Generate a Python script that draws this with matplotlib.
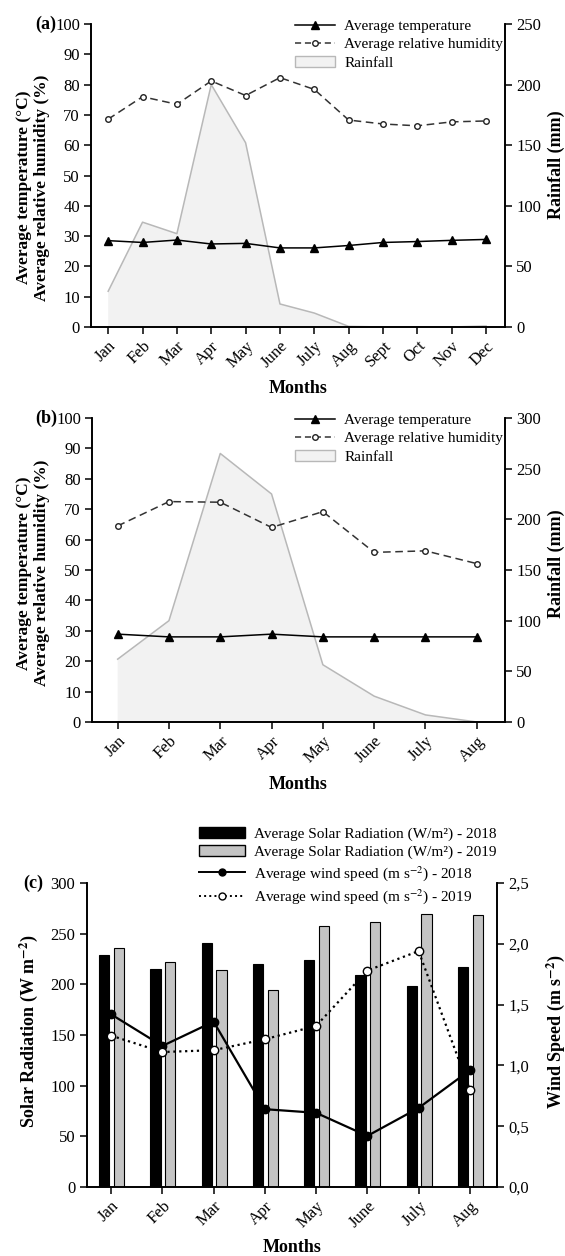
import matplotlib
matplotlib.use("Agg")
import matplotlib.pyplot as plt
from matplotlib.patches import Patch
from matplotlib.lines import Line2D
import numpy as np

plt.rcParams['font.family'] = ['Liberation Serif', 'DejaVu Serif']
plt.rcParams['mathtext.fontset'] = 'stix'

# ---------------- data ----------------
months_a = ["Jan", "Feb", "Mar", "Apr", "May", "June", "July", "Aug", "Sept", "Oct", "Nov", "Dec"]
temp_a = [28.5, 27.9, 28.7, 27.4, 27.6, 26.1, 26.1, 26.9, 27.9, 28.2, 28.6, 28.9]
hum_a = [68.6, 76.0, 73.5, 81.2, 76.4, 82.3, 78.4, 68.3, 67.0, 66.4, 67.7, 68.0]
rain_a = [29.5, 86.5, 77.0, 200.0, 152.0, 19.0, 11.5, 0.5, 0.0, 0.0, 0.0, 0.8]

months_b = ["Jan", "Feb", "Mar", "Apr", "May", "June", "July", "Aug"]
temp_b = [28.9, 28.0, 28.0, 28.9, 28.0, 28.0, 28.0, 28.0]
hum_b = [64.5, 72.5, 72.3, 64.0, 69.2, 55.8, 56.3, 52.1]
rain_b = [62.0, 100.0, 265.0, 225.0, 56.5, 25.5, 7.0, 0.0]

months_c = ["Jan", "Feb", "Mar", "Apr", "May", "June", "July", "Aug"]
solar_2018 = [228.5, 215.0, 241.0, 220.5, 224.0, 209.0, 198.0, 217.0]
solar_2019 = [236.0, 222.0, 214.5, 194.0, 258.0, 262.0, 269.0, 268.0]
wind_2018 = [1.42, 1.16, 1.36, 0.64, 0.61, 0.42, 0.65, 0.96]
wind_2019 = [1.245, 1.11, 1.125, 1.215, 1.325, 1.78, 1.94, 0.80]

W, H = 565, 1256
fig = plt.figure(figsize=(W / 100, H / 100), dpi=100)

TICK_FS = 12
LAB_FS = 13
LEG_FS = 11
RAIN_FACE = '#f2f2f2'
RAIN_EDGE = '#b8b8b8'


def px_axes(left, right, top, bottom):
    return [left / W, 1 - bottom / H, (right - left) / W, (bottom - top) / H]


def style_axis(ax):
    ax.tick_params(direction='out', length=5, width=1.1, labelsize=TICK_FS, pad=3)
    for s in ax.spines.values():
        s.set_linewidth(1.2)


def climate_panel(rect, months, temp, hum, rain, rain_max, rain_step, label,
                  ylab_x, lab_y, rlab_y, xlab_y):
    ax = fig.add_axes(rect)
    ax2 = ax.twinx()
    x = np.arange(len(months))
    ax2.fill_between(x, rain, 0, facecolor=RAIN_FACE, edgecolor='none', zorder=1)
    ax2.plot(x, rain, color=RAIN_EDGE, lw=1.1, zorder=2)
    ax2.set_ylim(0, rain_max)
    ax2.set_yticks(np.arange(0, rain_max + 1, rain_step))
    ax.set_zorder(ax2.get_zorder() + 1)
    ax.patch.set_visible(False)

    ax.plot(x, temp, '-', color='black', lw=1.1, marker='^', ms=5.5, mfc='black', mec='black', zorder=3)
    ax.plot(x, hum, color='#333333', lw=1.1, ls=(0, (5, 3)), marker='o', ms=4,
            mfc='white', mec='#222222', mew=1.0, zorder=3)
    ax.set_ylim(0, 100)
    ax.set_yticks(np.arange(0, 101, 10))
    ax.set_xlim(-0.5, len(months) - 1 + 0.55)
    ax.set_xticks(x)
    ax.set_xticklabels(months, rotation=45, ha='right', rotation_mode='anchor')
    for a in (ax, ax2):
        style_axis(a)
        a.spines['top'].set_visible(False)
    ax.set_xlabel('Months', fontsize=LAB_FS, fontweight='bold')
    ax.xaxis.set_label_coords(0.5, xlab_y)
    ax.set_ylabel('Average temperature (°C)\nAverage relative humidity (%)',
                  fontsize=12.5, fontweight='bold', linespacing=1.15)
    ax.yaxis.set_label_coords(ylab_x, lab_y)
    ax2.set_ylabel('Rainfall (mm)', fontsize=LAB_FS, fontweight='bold')
    ax2.yaxis.set_label_coords(1.104, rlab_y)

    handles = [Line2D([], [], color='black', lw=1.1, marker='^', ms=5.5),
               Line2D([], [], color='#333333', lw=1.1, ls=(0, (4, 2.5)), marker='o', ms=4,
                      mfc='white', mec='#222222'),
               Patch(facecolor=RAIN_FACE, edgecolor=RAIN_EDGE)]
    ax.legend(handles, ['Average temperature', 'Average relative humidity', 'Rainfall'],
              loc='upper right', bbox_to_anchor=(0.995, 1.015), frameon=False,
              fontsize=LEG_FS, handlelength=2.6, handletextpad=0.6, labelspacing=0.3,
              borderpad=0.0, borderaxespad=0.0)
    ax.text(-0.085, 1.0, label, transform=ax.transAxes, ha='right', va='center',
            fontsize=LAB_FS, fontweight='bold')
    return ax


climate_panel(px_axes(91, 505, 24, 327), months_a, temp_a, hum_a, rain_a, 250, 50, '(a)',
              -0.099, 0.46, 0.535, -0.175)
climate_panel(px_axes(92, 505, 418, 722), months_b, temp_b, hum_b, rain_b, 300, 50, '(b)',
              -0.102, 0.49, 0.52, -0.178)

# ---------------- panel (c) ----------------
axc = fig.add_axes(px_axes(86.5, 497, 883, 1187))
axw = axc.twinx()
xc = np.arange(len(months_c))
bw = 0.2
axc.bar(xc - 0.135, solar_2018, width=bw, color='black', edgecolor='black', lw=0.8, zorder=2)
axc.bar(xc + 0.155, solar_2019, width=bw, color='#c4c4c4', edgecolor='black', lw=0.8, zorder=2)
axc.set_ylim(0, 300)
axc.set_yticks(np.arange(0, 301, 50))
axc.set_xlim(-0.48, len(months_c) - 1 + 0.53)
axc.set_xticks(xc)
axc.set_xticklabels(months_c, rotation=45, ha='right', rotation_mode='anchor')

axw.plot(xc, wind_2018, '-', color='black', lw=1.6, marker='o', ms=6, mfc='black', mec='black', zorder=3)
axw.plot(xc, wind_2019, ':', color='black', lw=1.6, marker='o', ms=6, mfc='white', mec='black', zorder=3)
axw.set_ylim(0, 2.5)
axw.set_yticks(np.arange(0, 2.51, 0.5))
axw.set_yticklabels([f"{v:.1f}".replace('.', ',') for v in np.arange(0, 2.51, 0.5)])

for a in (axc, axw):
    style_axis(a)
    a.spines['top'].set_visible(False)

axc.set_xlabel('Months', fontsize=LAB_FS, fontweight='bold')
axc.xaxis.set_label_coords(0.5, -0.172)
axc.set_ylabel('Solar Radiation (W m$^{\\mathbf{-2}}$)', fontsize=LAB_FS, fontweight='bold')
axc.yaxis.set_label_coords(-0.113, 0.513)
axw.set_ylabel('Wind Speed (m s$^{\\mathbf{-2}}$)', fontsize=LAB_FS, fontweight='bold')
axw.yaxis.set_label_coords(1.116, 0.51)
axc.text(-0.105, 1.0, '(c)', transform=axc.transAxes, ha='right', va='center',
         fontsize=LAB_FS, fontweight='bold')

leg_handles = [Patch(facecolor='black', edgecolor='black'),
               Patch(facecolor='#c4c4c4', edgecolor='black'),
               Line2D([], [], color='black', lw=1.4, marker='o', ms=5, mfc='black'),
               Line2D([], [], color='black', lw=1.4, ls=':', marker='o', ms=5, mfc='white')]
leg_labels = ['Average Solar Radiation (W/m²) - 2018',
              'Average Solar Radiation (W/m²) - 2019',
              'Average wind speed (m s$^{-2}$) - 2018',
              'Average wind speed (m s$^{-2}$) - 2019']
fig.legend(leg_handles, leg_labels, loc='upper left',
           bbox_to_anchor=(199 / W, 1 - 827 / H), frameon=False,
           fontsize=LEG_FS, handlelength=3.0, handletextpad=0.6, labelspacing=0.3,
           borderpad=0.0, borderaxespad=0.0)

fig.savefig('out.png', dpi=100)
